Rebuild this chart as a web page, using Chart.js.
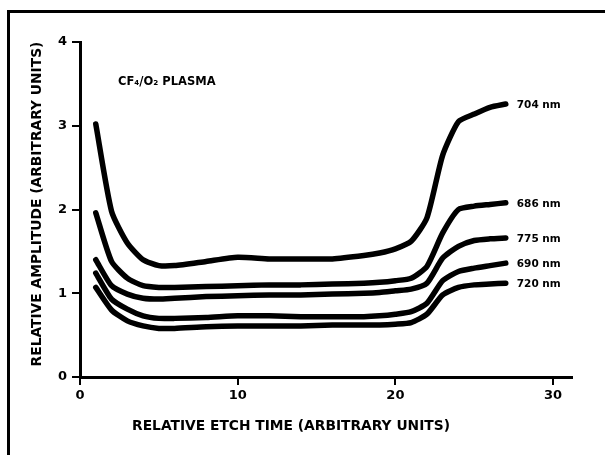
<!DOCTYPE html>
<html>
<head>
<meta charset="utf-8">
<script src="https://cdn.jsdelivr.net/npm/chart.js@4/dist/chart.umd.min.js"></script>
<style>
  body { margin: 0; background: #fff; }
  canvas { display: block; }
</style>
</head>
<body>
<canvas id="etchChart" width="605" height="455"></canvas>
<script>
// relative etch time (x) and amplitude per wavelength
var etchTime = [1, 2, 3, 4, 5, 6, 8, 10, 12, 14, 16, 18, 19, 20, 21, 22, 23, 24, 25, 26, 27]
var amp704 = [3.02, 1.98, 1.60, 1.40, 1.33, 1.33, 1.38, 1.43, 1.41, 1.41, 1.41, 1.45, 1.48, 1.53, 1.62, 1.90, 2.65, 3.05, 3.14, 3.22, 3.26]
var amp686 = [1.96, 1.38, 1.18, 1.09, 1.07, 1.07, 1.08, 1.09, 1.10, 1.10, 1.11, 1.12, 1.13, 1.15, 1.18, 1.32, 1.72, 2.00, 2.04, 2.06, 2.08]
var amp775 = [1.40, 1.09, 0.99, 0.94, 0.93, 0.94, 0.96, 0.97, 0.98, 0.98, 0.99, 1.00, 1.01, 1.03, 1.05, 1.12, 1.42, 1.56, 1.63, 1.65, 1.66]
var amp690 = [1.24, 0.93, 0.81, 0.73, 0.70, 0.70, 0.71, 0.73, 0.73, 0.72, 0.72, 0.72, 0.73, 0.75, 0.78, 0.88, 1.15, 1.26, 1.30, 1.33, 1.36]
var amp720 = [1.07, 0.80, 0.67, 0.61, 0.58, 0.58, 0.60, 0.61, 0.61, 0.61, 0.62, 0.62, 0.62, 0.63, 0.65, 0.75, 0.98, 1.07, 1.10, 1.11, 1.12]
var seriesNames = ['704 nm', '686 nm', '775 nm', '690 nm', '720 nm']
var seriesValues = [amp704, amp686, amp775, amp690, amp720]
var xTickValues = [0, 10, 20, 30]
var yTickValues = [0, 1, 2, 3, 4]

var boldFont = '"DejaVu Sans", "Liberation Sans", sans-serif'

var datasets = seriesValues.map(function (vals, i) {
  return {
    label: seriesNames[i],
    data: vals.map(function (v, j) { return { x: etchTime[j], y: v } }),
    borderColor: '#000',
    borderWidth: 5.5,
    pointRadius: 0,
    tension: 0.2,
    borderCapStyle: 'round',
    borderJoinStyle: 'round',
    fill: false
  }
})

// frame, plasma note, axis titles and curve labels
var decorations = {
  id: 'decorations',
  afterDraw: function (chart) {
    var ctx = chart.ctx
    ctx.save()
    ctx.strokeStyle = '#000'
    ctx.lineWidth = 3
    ctx.strokeRect(8.5, 11.5, 620, 470)

    ctx.fillStyle = '#000'
    ctx.font = 'bold 11.5px ' + boldFont
    ctx.textAlign = 'left'
    ctx.textBaseline = 'middle'
    ctx.fillText('CF\u2084/O\u2082 PLASMA', 118, 82)

    ctx.font = 'bold 13.8px ' + boldFont
    ctx.textAlign = 'center'
    ctx.fillText('RELATIVE ETCH TIME (ARBITRARY UNITS)', 291, 426)
    ctx.save()
    ctx.translate(37, 204)
    ctx.rotate(-Math.PI / 2)
    ctx.fillText('RELATIVE AMPLITUDE (ARBITRARY UNITS)', 0, 0)
    ctx.restore()

    ctx.font = 'bold 10.5px ' + boldFont
    ctx.textAlign = 'left'
    chart.data.datasets.forEach(function (ds, i) {
      var pts = chart.getDatasetMeta(i).data
      var last = pts[pts.length - 1]
      ctx.fillText(ds.label, last.x + 11, last.y + 1)
    })
    ctx.restore()
  }
}

new Chart(document.getElementById('etchChart').getContext('2d'), {
  type: 'line',
  data: { datasets: datasets },
  options: {
    responsive: false,
    animation: false,
    layout: { padding: { top: 42, right: 33, left: 0, bottom: 0 } },
    plugins: { legend: { display: false }, tooltip: { enabled: false } },
    scales: {
      x: {
        type: 'linear',
        min: 0,
        max: 31.2,
        afterBuildTicks: function (scale) {
          scale.ticks = xTickValues.map(function (v) { return { value: v } })
        },
        afterFit: function (scale) { scale.height = 78 },
        grid: { drawOnChartArea: false, tickLength: 8, color: '#000', lineWidth: 2 },
        border: { color: '#000', width: 3 },
        ticks: { color: '#000', padding: 3, maxRotation: 0, font: { family: boldFont, size: 13, weight: 'bold' } }
      },
      y: {
        min: 0,
        max: 4,
        afterBuildTicks: function (scale) {
          scale.ticks = yTickValues.map(function (v) { return { value: v } })
        },
        afterFit: function (scale) { scale.width = 80 },
        grid: { drawOnChartArea: false, tickLength: 8, color: '#000', lineWidth: 2 },
        border: { color: '#000', width: 3 },
        ticks: { color: '#000', padding: 5, font: { family: boldFont, size: 13, weight: 'bold' } }
      }
    }
  },
  plugins: [decorations]
})
</script>
</body>
</html>
